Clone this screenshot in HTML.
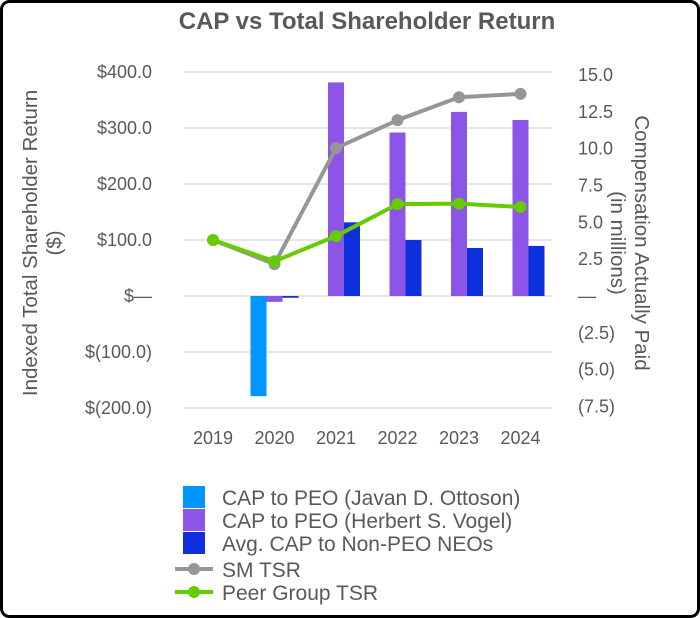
<!DOCTYPE html>
<html><head><meta charset="utf-8"><style>
html,body{margin:0;padding:0;background:#fff}
svg{display:block;font-family:"Liberation Sans",Arial,sans-serif}
</style></head><body>
<svg id="chart" width="700" height="618" viewBox="0 0 700 618">
<rect x="1.5" y="1.5" width="697" height="615" rx="8" fill="#fff" stroke="#000" stroke-width="3"/>
<text x="367" y="29" text-anchor="middle" font-size="24" font-weight="bold" fill="#595959">CAP vs Total Shareholder Return</text>
<g id="grid"></g><g id="bars"></g><g id="lines"></g><g id="axes"></g>
<text transform="translate(37,243) rotate(-90)" text-anchor="middle" font-size="20.5" fill="#595959"><tspan x="0" dy="0">Indexed Total Shareholder Return</tspan><tspan x="0" dy="24">($)</tspan></text>
<text transform="translate(635,243) rotate(90)" text-anchor="middle" font-size="20.5" fill="#595959"><tspan x="0" dy="0">Compensation Actually Paid</tspan><tspan x="0" dy="24">(in millions)</tspan></text>
<g font-size="21" fill="#595959">
<g><rect x="183" y="486" width="22" height="22" fill="#0096ff"/><text x="222" y="505">CAP to PEO (Javan D. Ottoson)</text></g>
<g><rect x="183" y="509" width="22" height="22" fill="#8c55e8"/><text x="222" y="528">CAP to PEO (Herbert S. Vogel)</text></g>
<g><rect x="183" y="532" width="22" height="22" fill="#0d30dc"/><text x="222" y="551">Avg. CAP to Non-PEO NEOs</text></g>
<g><line x1="175" y1="569" x2="213" y2="569" stroke="#969696" stroke-width="4"/><circle cx="194" cy="569" r="6" fill="#969696"/><text x="222" y="577">SM TSR</text></g>
<g><line x1="175" y1="592" x2="213" y2="592" stroke="#66cc00" stroke-width="4"/><circle cx="194" cy="592" r="6" fill="#66cc00"/><text x="222" y="600">Peer Group TSR</text></g>
</g>
</svg>
<script>
const categories=["2019","2020","2021","2022","2023","2024"];
const capOttoson=[null,-6.8,null,null,null,null];
const capVogel=[null,-0.4,14.5,11.1,12.5,11.95];
const capNeos=[null,-0.12,5.0,3.8,3.26,3.4];
const smTsr=[100,57,264,314,355,361];
const peerTsr=[100,62,107,164,165,159];
const leftTicks=[400,300,200,100,0,-100,-200];
const leftLabels=["$400.0","$300.0","$200.0","$100.0","$—","$(100.0)","$(200.0)"];
const rightTicks=[15,12.5,10,7.5,5,2.5,0,-2.5,-5,-7.5];
const rightLabels=["15.0","12.5","10.0","7.5","5.0","2.5","—","(2.5)","(5.0)","(7.5)"];
const NS="http://www.w3.org/2000/svg";
const yL=v=>296-v*0.56;
const yR=v=>296-v*14.73;
const xC=i=>213+i*61.5;
function mk(tag,attrs,parent){const e=document.createElementNS(NS,tag);for(const k in attrs)e.setAttribute(k,attrs[k]);parent.appendChild(e);return e;}
const grid=document.getElementById('grid'),axes=document.getElementById('axes'),bars=document.getElementById('bars'),lines=document.getElementById('lines');
leftTicks.forEach((t,i)=>{
  const g=mk('line',{x1:184,x2:552,y1:yL(t),y2:yL(t),stroke:'#e6e6e6','stroke-width':2},grid);
  
  
  const tx=mk('text',{x:152,y:yL(t)+6,'text-anchor':'end','font-size':18,fill:'#595959'},axes);tx.textContent=leftLabels[i];
  
  
});
rightTicks.forEach((t,i)=>{
  const tx=mk('text',{x:578,y:yR(t)+6,'font-size':18,fill:'#595959'},axes);tx.textContent=rightLabels[i];
  
  
});
categories.forEach((c,i)=>{
  const tx=mk('text',{x:xC(i),y:444,'text-anchor':'middle','font-size':18,fill:'#595959'},axes);tx.textContent=c;
  
  
});
const series=[[capOttoson,'#0096ff',-24,'bar-ottoson'],[capVogel,'#8c55e8',-8,'bar-vogel'],[capNeos,'#0d30dc',8,'bar-neos']];
series.forEach(([arr,col,off,name])=>{
  arr.forEach((v,i)=>{if(v===null)return;
    const y0=yR(0),y1=yR(v);
    const r=mk('rect',{x:xC(i)+off,y:Math.min(y0,y1),width:16,height:Math.abs(y1-y0),fill:col},bars);
    
    
  });
});
[[smTsr,'#969696','sm-tsr'],[peerTsr,'#66cc00','peer-tsr']].forEach(([arr,col,name])=>{
  const pts=arr.map((v,i)=>xC(i)+','+yL(v)).join(' ');
  const pl=mk('polyline',{points:pts,fill:'none',stroke:col,'stroke-width':4,'stroke-linejoin':'round'},lines);
  
  
  arr.forEach((v,i)=>{
    const c=mk('circle',{cx:xC(i),cy:yL(v),r:6,fill:col},lines);
    
    
  });
});
</script>
</body></html>
